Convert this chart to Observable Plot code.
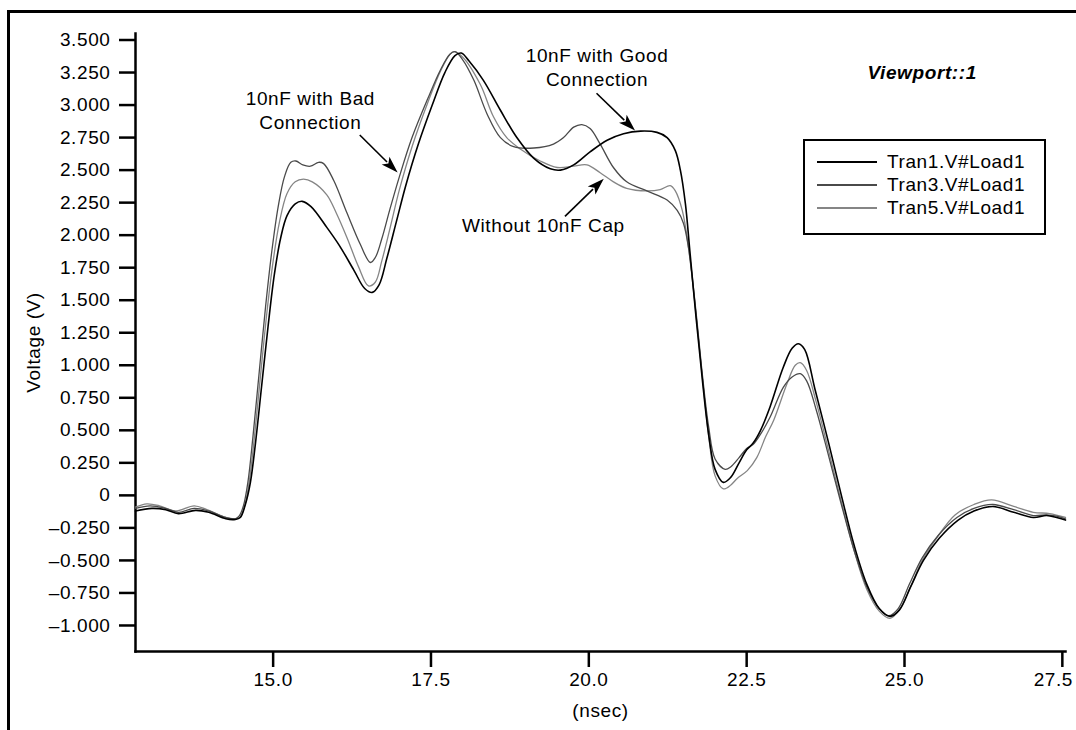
<!DOCTYPE html>
<html><head><meta charset="utf-8">
<script src="https://cdn.jsdelivr.net/npm/d3@7"></script>
<script src="https://cdn.jsdelivr.net/npm/@observablehq/plot@0.6"></script>
<style>
body{margin:0;background:#fff;font-family:"Liberation Sans",Arial,sans-serif;}
#wrap{position:relative;width:1076px;height:730px;overflow:hidden;background:#fff;}
#border{position:absolute;left:7px;top:10px;width:1090px;height:740px;border-left:3px solid #000;border-top:3px solid #000;box-sizing:border-box;}
#chart{position:absolute;left:0;top:0;}
#legend{position:absolute;left:803px;top:139px;width:243px;height:96px;border:2px solid #000;box-sizing:border-box;background:#fff;padding-top:9px;}
.row{height:23px;display:flex;align-items:center;font-size:19px;letter-spacing:0.6px;color:#000;}
.row svg{margin-left:12px;margin-right:10px;}
</style></head>
<body><div id="wrap"><div id="border"></div><div id="chart"></div><div id="legend"></div></div>
<script>
// ---- data (x in nsec, y in volts) ----
const seriesNames = ["Tran1.V#Load1", "Tran3.V#Load1", "Tran5.V#Load1"];
const seriesColors = ["#000000", "#4a4a4a", "#858585"];

const tran1 = [[12.82,-0.12],[13.08,-0.10],[13.30,-0.11],[13.50,-0.14],[13.77,-0.115],[13.98,-0.13],[14.25,-0.18],[14.40,-0.185],[14.48,-0.17],[14.56,-0.07],[14.64,0.10],[14.72,0.40],[14.82,0.85],[14.92,1.30],[15.02,1.70],[15.12,1.98],[15.22,2.15],[15.35,2.24],[15.46,2.26],[15.60,2.22],[15.85,2.06],[16.05,1.92],[16.28,1.73],[16.45,1.59],[16.57,1.56],[16.68,1.62],[16.80,1.82],[16.95,2.10],[17.10,2.38],[17.30,2.70],[17.52,3.00],[17.72,3.25],[17.88,3.38],[17.98,3.40],[18.10,3.34],[18.33,3.19],[18.60,2.96],[18.86,2.75],[19.13,2.59],[19.39,2.51],[19.55,2.50],[19.76,2.54],[20.02,2.64],[20.29,2.73],[20.55,2.78],[20.82,2.80],[21.08,2.79],[21.24,2.75],[21.37,2.65],[21.45,2.50],[21.53,2.24],[21.60,1.88],[21.70,1.36],[21.80,0.88],[21.90,0.46],[22.00,0.20],[22.13,0.10],[22.25,0.14],[22.38,0.25],[22.50,0.35],[22.60,0.40],[22.72,0.50],[22.87,0.68],[23.08,0.985],[23.22,1.13],[23.32,1.165],[23.42,1.12],[23.58,0.82],[23.80,0.40],[24.00,0.00],[24.20,-0.38],[24.40,-0.68],[24.60,-0.87],[24.77,-0.93],[24.92,-0.88],[25.10,-0.70],[25.30,-0.50],[25.55,-0.33],[25.85,-0.19],[26.10,-0.12],[26.40,-0.085],[26.73,-0.13],[27.04,-0.17],[27.25,-0.155],[27.41,-0.17],[27.55,-0.19]];

const tran3 = [[12.82,-0.10],[13.05,-0.08],[13.30,-0.10],[13.50,-0.13],[13.75,-0.10],[13.98,-0.12],[14.25,-0.17],[14.40,-0.18],[14.46,-0.16],[14.53,-0.08],[14.60,0.10],[14.68,0.45],[14.78,0.95],[14.88,1.45],[14.98,1.88],[15.08,2.22],[15.18,2.45],[15.28,2.56],[15.36,2.57],[15.47,2.54],[15.59,2.53],[15.72,2.56],[15.80,2.55],[15.96,2.42],[16.17,2.17],[16.38,1.93],[16.54,1.79],[16.62,1.83],[16.72,1.97],[16.85,2.20],[17.00,2.45],[17.20,2.75],[17.45,3.05],[17.65,3.27],[17.80,3.39],[17.88,3.41],[18.00,3.35],[18.18,3.19],[18.39,2.93],[18.60,2.75],[18.81,2.68],[19.13,2.67],[19.44,2.70],[19.60,2.75],[19.76,2.83],[19.89,2.85],[20.02,2.82],[20.18,2.70],[20.39,2.52],[20.60,2.41],[20.92,2.34],[21.24,2.27],[21.40,2.19],[21.50,2.09],[21.58,1.90],[21.70,1.40],[21.80,0.92],[21.90,0.52],[22.00,0.28],[22.16,0.20],[22.25,0.22],[22.38,0.29],[22.50,0.36],[22.60,0.39],[22.72,0.47],[22.87,0.60],[23.08,0.83],[23.22,0.91],[23.35,0.935],[23.45,0.88],[23.60,0.66],[23.80,0.30],[24.00,-0.07],[24.20,-0.42],[24.40,-0.70],[24.60,-0.87],[24.75,-0.925],[24.90,-0.87],[25.08,-0.68],[25.28,-0.48],[25.53,-0.31],[25.83,-0.17],[26.10,-0.10],[26.40,-0.07],[26.73,-0.11],[27.04,-0.155],[27.25,-0.15],[27.41,-0.16],[27.55,-0.18]];

const tran5 = [[12.82,-0.09],[13.00,-0.065],[13.20,-0.08],[13.45,-0.12],[13.75,-0.08],[13.95,-0.11],[14.25,-0.17],[14.40,-0.18],[14.47,-0.17],[14.55,-0.08],[14.62,0.10],[14.70,0.43],[14.80,0.92],[14.90,1.40],[15.00,1.80],[15.10,2.10],[15.22,2.32],[15.35,2.41],[15.48,2.43],[15.62,2.41],[15.85,2.31],[16.00,2.17],[16.17,1.98],[16.35,1.76],[16.51,1.61],[16.62,1.64],[16.72,1.80],[16.85,2.05],[17.00,2.35],[17.20,2.68],[17.45,3.02],[17.65,3.26],[17.80,3.39],[17.86,3.41],[18.00,3.37],[18.28,3.16],[18.49,2.91],[18.70,2.75],[18.92,2.66],[19.23,2.57],[19.50,2.52],[19.76,2.53],[19.97,2.54],[20.18,2.48],[20.39,2.41],[20.60,2.36],[20.92,2.34],[21.13,2.35],[21.29,2.38],[21.37,2.34],[21.48,2.19],[21.58,1.90],[21.70,1.38],[21.80,0.90],[21.90,0.45],[22.00,0.15],[22.13,0.05],[22.25,0.08],[22.35,0.13],[22.51,0.19],[22.66,0.29],[22.80,0.45],[22.93,0.58],[23.14,0.86],[23.27,1.00],[23.35,1.02],[23.45,0.96],[23.60,0.72],[23.80,0.34],[24.00,-0.05],[24.20,-0.42],[24.40,-0.72],[24.60,-0.89],[24.77,-0.945],[24.92,-0.88],[25.10,-0.70],[25.28,-0.50],[25.52,-0.32],[25.80,-0.15],[26.10,-0.07],[26.38,-0.035],[26.73,-0.085],[27.04,-0.13],[27.30,-0.14],[27.55,-0.17]];

const xTicks = [15.0, 17.5, 20.0, 22.5, 25.0, 27.5];
const yTicks = [-1.0,-0.75,-0.5,-0.25,0,0.25,0.5,0.75,1.0,1.25,1.5,1.75,2.0,2.25,2.5,2.75,3.0,3.25,3.5];
const xDomain = [12.82, 27.55];
const yDomain = [-1.2, 3.55];

const labels = [
  {x: 15.59, y: 2.97, text: "10nF with Bad\nConnection"},
  {x: 20.13, y: 3.30, text: "10nF with Good\nConnection"},
  {x: 19.28, y: 2.08, text: "Without 10nF Cap"}
];
const viewport = [{x: 25.28, y: 3.25, text: "Viewport::1"}];
const arrows = [
  {x1: 16.38, y1: 2.766, x2: 16.98, y2: 2.477},
  {x1: 20.13, y1: 3.087, x2: 20.74, y2: 2.80},
  {x1: 19.63, y1: 2.14, x2: 20.245, y2: 2.43}
];

// ---- build table ----
const allSeries = [tran1, tran3, tran5];
const rows = [];
allSeries.forEach((s, i) => s.forEach(([x, y]) => rows.push({x, y, series: seriesNames[i]})));

const yFmt = d => Math.abs(d) < 1e-9 ? "0" : d3.format(".3f")(d).replace("−", "–");
const xFmt = d3.format(".1f");
const lastTick = xTicks[xTicks.length - 1];

const plot = Plot.plot({
  width: 1076, height: 730,
  marginLeft: 135, marginRight: 11, marginTop: 33, marginBottom: 79,
  style: {fontFamily: '"Liberation Sans", Arial, sans-serif', fontSize: "19px", background: "transparent", color: "#000", letterSpacing: "0.6px"},
  x: {domain: xDomain},
  y: {domain: yDomain},
  marks: [
    Plot.frame({anchor: "left", strokeWidth: 2.5}),
    Plot.frame({anchor: "bottom", strokeWidth: 2.5}),
    Plot.axisY({ticks: yTicks, tickFormat: yFmt, tickSize: 16, tickPadding: 9, strokeWidth: 2.5,
      label: "Voltage (V)", labelAnchor: "center", labelOffset: 109, labelArrow: "none"}),
    Plot.axisX({ticks: xTicks, tickFormat: d => d === lastTick ? "" : xFmt(d), tickSize: 16, tickPadding: 5, strokeWidth: 2.5,
      label: "(nsec)", labelAnchor: "center", labelOffset: 65, labelArrow: "none"}),
    Plot.axisX({ticks: [lastTick], tickFormat: xFmt, tickSize: 0, tickPadding: 21, dx: -9, label: null}),
    Plot.line(rows.filter(d => d.series === seriesNames[2]), {x: "x", y: "y", stroke: seriesColors[2], strokeWidth: 1.3, curve: "catmull-rom"}),
    Plot.line(rows.filter(d => d.series === seriesNames[1]), {x: "x", y: "y", stroke: seriesColors[1], strokeWidth: 1.3, curve: "catmull-rom"}),
    Plot.line(rows.filter(d => d.series === seriesNames[0]), {x: "x", y: "y", stroke: seriesColors[0], strokeWidth: 1.6, curve: "catmull-rom"}),
    Plot.text(labels, {x: "x", y: "y", text: "text", lineHeight: 1.26, fill: "#000"}),
    Plot.text(viewport, {x: "x", y: "y", text: "text", fontWeight: "bold", fontStyle: "italic", fill: "#000"})
  ]
});
document.getElementById("chart").appendChild(plot);

// ---- arrows drawn through the plot's scales ----
const sx = plot.scale("x"), sy = plot.scale("y");
const fx = sx.apply ? v => sx.apply(v) : d3.scaleLinear(sx.domain, sx.range);
const fy = sy.apply ? v => sy.apply(v) : d3.scaleLinear(sy.domain, sy.range);
const svg = d3.select(plot);
const g = svg.append("g");
arrows.forEach(a => {
  const x1 = fx(a.x1), y1 = fy(a.y1), x2 = fx(a.x2), y2 = fy(a.y2);
  const ang = Math.atan2(y2 - y1, x2 - x1);
  const L = 17, W = 5.5;
  const bx = x2 - L * Math.cos(ang), by = y2 - L * Math.sin(ang);
  g.append("line").attr("x1", x1).attr("y1", y1).attr("x2", bx + 2 * Math.cos(ang)).attr("y2", by + 2 * Math.sin(ang))
    .attr("stroke", "#000").attr("stroke-width", 1.6);
  g.append("path").attr("d", `M${x2},${y2}L${bx + W * Math.sin(ang)},${by - W * Math.cos(ang)}L${bx + 4 * Math.cos(ang)},${by + 4 * Math.sin(ang)}L${bx - W * Math.sin(ang)},${by + W * Math.cos(ang)}Z`)
    .attr("fill", "#000");
});

// ---- legend ----
const leg = d3.select("#legend");
seriesNames.forEach((name, i) => {
  const r = leg.append("div").attr("class", "row");
  const s = r.append("svg").attr("width", 60).attr("height", 10);
  s.append("line").attr("x1", 0).attr("x2", 60).attr("y1", 5).attr("y2", 5)
    .attr("stroke", seriesColors[i]).attr("stroke-width", 2);
  r.append("span").text(name);
});
</script>
</body></html>
